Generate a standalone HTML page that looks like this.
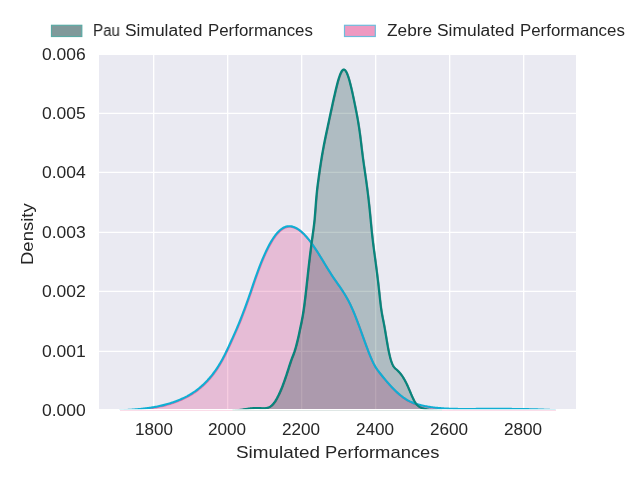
<!DOCTYPE html>
<html><head><meta charset="utf-8"><title>Simulated Performances density</title>
<style>
html,body{margin:0;padding:0;background:#ffffff;}
body{width:640px;height:480px;overflow:hidden;position:relative;font-family:"Liberation Sans",sans-serif;color:#262626;}
.t{position:absolute;display:block;white-space:nowrap;line-height:1;font-family:"Liberation Sans",sans-serif;color:#262626;will-change:transform;transform-origin:0 0;}
</style></head><body>
<svg width="640" height="480" viewBox="0 0 640 480" style="position:absolute;left:0;top:0">
<defs><clipPath id="ax"><rect x="99" y="55" width="477" height="354"/></clipPath></defs>
<rect x="99" y="55" width="477" height="354" fill="#eaeaf2"/>
<g clip-path="url(#ax)" stroke="#ffffff" stroke-width="1.35" fill="none">
<line x1="153.675" y1="55" x2="153.675" y2="409"/>
<line x1="227.675" y1="55" x2="227.675" y2="409"/>
<line x1="301.675" y1="55" x2="301.675" y2="409"/>
<line x1="375.675" y1="55" x2="375.675" y2="409"/>
<line x1="449.675" y1="55" x2="449.675" y2="409"/>
<line x1="523.675" y1="55" x2="523.675" y2="409"/>
<line x1="99" y1="54.4" x2="576" y2="54.4"/>
<line x1="99" y1="113.4" x2="576" y2="113.4"/>
<line x1="99" y1="172.4" x2="576" y2="172.4"/>
<line x1="99" y1="232.4" x2="576" y2="232.4"/>
<line x1="99" y1="291.4" x2="576" y2="291.4"/>
<line x1="99" y1="351.4" x2="576" y2="351.4"/>
</g>
<defs><clipPath id="ax2"><rect x="99" y="55" width="477" height="355"/></clipPath></defs>
<g clip-path="url(#ax)">
<path d="M119.50,410.55 L120.50,410.50 L121.50,410.44 L122.50,410.39 L123.50,410.33 L124.50,410.28 L125.50,410.22 L126.50,410.16 L127.50,410.10 L128.50,410.04 L129.50,409.97 L130.50,409.91 L131.50,409.84 L132.50,409.77 L133.50,409.70 L134.50,409.62 L135.50,409.54 L136.50,409.46 L137.50,409.37 L138.50,409.28 L139.50,409.19 L140.50,409.09 L141.50,408.99 L142.50,408.88 L143.50,408.77 L144.50,408.66 L145.50,408.54 L146.50,408.41 L147.50,408.28 L148.50,408.14 L149.50,408.00 L150.50,407.85 L151.50,407.69 L152.50,407.53 L153.50,407.37 L154.50,407.19 L155.50,407.01 L156.50,406.82 L157.50,406.62 L158.50,406.42 L159.50,406.21 L160.50,405.99 L161.50,405.76 L162.50,405.52 L163.50,405.28 L164.50,405.03 L165.50,404.76 L166.50,404.49 L167.50,404.21 L168.50,403.92 L169.50,403.62 L170.50,403.31 L171.50,402.99 L172.50,402.66 L173.50,402.32 L174.50,401.97 L175.50,401.60 L176.50,401.23 L177.50,400.84 L178.50,400.45 L179.50,400.04 L180.50,399.61 L181.50,399.18 L182.50,398.73 L183.50,398.26 L184.50,397.78 L185.50,397.28 L186.50,396.76 L187.50,396.23 L188.50,395.67 L189.50,395.10 L190.50,394.50 L191.50,393.89 L192.50,393.25 L193.50,392.59 L194.50,391.90 L195.50,391.20 L196.50,390.46 L197.50,389.70 L198.50,388.92 L199.50,388.11 L200.50,387.27 L201.50,386.40 L202.50,385.50 L203.50,384.58 L204.50,383.62 L205.50,382.63 L206.50,381.61 L207.50,380.56 L208.50,379.46 L209.50,378.34 L210.50,377.17 L211.50,375.96 L212.50,374.70 L213.50,373.40 L214.50,372.06 L215.50,370.66 L216.50,369.21 L217.50,367.71 L218.50,366.15 L219.50,364.53 L220.50,362.85 L221.50,361.11 L222.50,359.31 L223.50,357.44 L224.50,355.51 L225.50,353.51 L226.50,351.46 L227.50,349.37 L228.50,347.24 L229.50,345.08 L230.50,342.89 L231.50,340.69 L232.50,338.48 L233.50,336.26 L234.50,334.03 L235.50,331.77 L236.50,329.49 L237.50,327.16 L238.50,324.80 L239.50,322.38 L240.50,319.90 L241.50,317.37 L242.50,314.78 L243.50,312.14 L244.50,309.45 L245.50,306.73 L246.50,303.98 L247.50,301.20 L248.50,298.41 L249.50,295.59 L250.50,292.73 L251.50,289.80 L252.50,286.79 L253.50,283.81 L254.50,280.87 L255.50,278.00 L256.50,275.18 L257.50,272.42 L258.50,269.73 L259.50,267.10 L260.50,264.53 L261.50,262.04 L262.50,259.61 L263.50,257.26 L264.50,254.98 L265.50,252.78 L266.50,250.65 L267.50,248.61 L268.50,246.64 L269.50,244.76 L270.50,242.97 L271.50,241.26 L272.50,239.63 L273.50,238.10 L274.50,236.65 L275.50,235.30 L276.50,234.04 L277.50,232.87 L278.50,231.80 L279.50,230.82 L280.50,229.95 L281.50,229.17 L282.50,228.49 L283.50,227.91 L284.50,227.43 L285.50,227.03 L286.50,226.74 L287.50,226.53 L288.50,226.40 L289.50,226.37 L290.50,226.41 L291.50,226.54 L292.50,226.75 L293.50,227.04 L294.50,227.40 L295.50,227.83 L296.50,228.34 L297.50,228.92 L298.50,229.56 L299.50,230.28 L300.50,231.05 L301.50,231.89 L302.50,232.79 L303.50,233.74 L304.50,234.75 L305.50,235.82 L306.50,236.93 L307.50,238.10 L308.50,239.32 L309.50,240.58 L310.50,241.88 L311.50,243.23 L312.50,244.62 L313.50,246.04 L314.50,247.51 L315.50,249.00 L316.50,250.53 L317.50,252.09 L318.50,253.67 L319.50,255.27 L320.50,256.89 L321.50,258.52 L322.50,260.15 L323.50,261.80 L324.50,263.45 L325.50,265.09 L326.50,266.73 L327.50,268.36 L328.50,269.98 L329.50,271.58 L330.50,273.16 L331.50,274.71 L332.50,276.24 L333.50,277.74 L334.50,279.20 L335.50,280.65 L336.50,282.08 L337.50,283.51 L338.50,284.93 L339.50,286.37 L340.50,287.82 L341.50,289.30 L342.50,290.81 L343.50,292.35 L344.50,293.95 L345.50,295.60 L346.50,297.31 L347.50,299.10 L348.50,300.96 L349.50,302.90 L350.50,304.94 L351.50,307.09 L352.50,309.33 L353.50,311.67 L354.50,314.09 L355.50,316.59 L356.50,319.16 L357.50,321.78 L358.50,324.45 L359.50,327.16 L360.50,329.90 L361.50,332.66 L362.50,335.43 L363.50,338.21 L364.50,340.97 L365.50,343.72 L366.50,346.45 L367.50,349.13 L368.50,351.75 L369.50,354.30 L370.50,356.76 L371.50,359.10 L372.50,361.31 L373.50,363.38 L374.50,365.28 L375.50,367.00 L376.50,368.57 L377.50,370.01 L378.50,371.36 L379.50,372.65 L380.50,373.92 L381.50,375.17 L382.50,376.41 L383.50,377.64 L384.50,378.85 L385.50,380.04 L386.50,381.22 L387.50,382.38 L388.50,383.53 L389.50,384.65 L390.50,385.75 L391.50,386.83 L392.50,387.88 L393.50,388.92 L394.50,389.92 L395.50,390.90 L396.50,391.85 L397.50,392.78 L398.50,393.67 L399.50,394.53 L400.50,395.36 L401.50,396.16 L402.50,396.93 L403.50,397.66 L404.50,398.35 L405.50,399.01 L406.50,399.63 L407.50,400.21 L408.50,400.76 L409.50,401.28 L410.50,401.77 L411.50,402.22 L412.50,402.65 L413.50,403.06 L414.50,403.43 L415.50,403.79 L416.50,404.12 L417.50,404.43 L418.50,404.72 L419.50,404.99 L420.50,405.24 L421.50,405.49 L422.50,405.71 L423.50,405.93 L424.50,406.13 L425.50,406.33 L426.50,406.51 L427.50,406.69 L428.50,406.86 L429.50,407.02 L430.50,407.17 L431.50,407.32 L432.50,407.46 L433.50,407.59 L434.50,407.71 L435.50,407.83 L436.50,407.94 L437.50,408.05 L438.50,408.14 L439.50,408.24 L440.50,408.32 L441.50,408.40 L442.50,408.48 L443.50,408.55 L444.50,408.61 L445.50,408.67 L446.50,408.72 L447.50,408.77 L448.50,408.82 L449.50,408.86 L450.50,408.90 L451.50,408.93 L452.50,408.96 L453.50,408.99 L454.50,409.01 L455.50,409.03 L456.50,409.05 L457.50,409.06 L458.50,409.08 L459.50,409.09 L460.50,409.09 L461.50,409.10 L462.50,409.10 L463.50,409.11 L464.50,409.11 L465.50,409.11 L466.50,409.11 L467.50,409.10 L468.50,409.10 L469.50,409.10 L470.50,409.09 L471.50,409.09 L472.50,409.09 L473.50,409.08 L474.50,409.08 L475.50,409.08 L476.50,409.07 L477.50,409.07 L478.50,409.06 L479.50,409.06 L480.50,409.06 L481.50,409.05 L482.50,409.05 L483.50,409.05 L484.50,409.04 L485.50,409.04 L486.50,409.04 L487.50,409.03 L488.50,409.03 L489.50,409.03 L490.50,409.03 L491.50,409.02 L492.50,409.02 L493.50,409.02 L494.50,409.02 L495.50,409.02 L496.50,409.02 L497.50,409.02 L498.50,409.02 L499.50,409.02 L500.50,409.02 L501.50,409.02 L502.50,409.02 L503.50,409.03 L504.50,409.03 L505.50,409.03 L506.50,409.04 L507.50,409.04 L508.50,409.05 L509.50,409.06 L510.50,409.06 L511.50,409.07 L512.50,409.08 L513.50,409.09 L514.50,409.10 L515.50,409.11 L516.50,409.12 L517.50,409.13 L518.50,409.14 L519.50,409.16 L520.50,409.17 L521.50,409.19 L522.50,409.20 L523.50,409.22 L524.50,409.24 L525.50,409.26 L526.50,409.28 L527.50,409.30 L528.50,409.32 L529.50,409.34 L530.50,409.37 L531.50,409.39 L532.50,409.42 L533.50,409.45 L534.50,409.47 L535.50,409.50 L536.50,409.53 L537.50,409.57 L538.50,409.60 L539.50,409.63 L540.50,409.67 L541.50,409.71 L542.50,409.75 L543.50,409.79 L544.50,409.83 L545.50,409.87 L546.50,409.91 L547.50,409.96 L548.50,410.00 L549.50,410.05 L550.50,410.10 L551.50,410.15 L552.50,410.21 L553.50,410.26 L554.50,410.31 L555.50,410.37 L556.00,410.40 L556.00,410.7 L119.50,410.7 Z" fill="rgb(221,51,131)" fill-opacity="0.25" stroke="none"/>
<path d="M119.50,410.55 L120.50,410.50 L121.50,410.44 L122.50,410.39 L123.50,410.33 L124.50,410.28 L125.50,410.22 L126.50,410.16 L127.50,410.10 L128.50,410.04 L129.50,409.97 L130.50,409.91 L131.50,409.84 L132.50,409.77 L133.50,409.70 L134.50,409.62 L135.50,409.54 L136.50,409.46 L137.50,409.37 L138.50,409.28 L139.50,409.19 L140.50,409.09 L141.50,408.99 L142.50,408.88 L143.50,408.77 L144.50,408.66 L145.50,408.54 L146.50,408.41 L147.50,408.28 L148.50,408.14 L149.50,408.00 L150.50,407.85 L151.50,407.69 L152.50,407.53 L153.50,407.37 L154.50,407.19 L155.50,407.01 L156.50,406.82 L157.50,406.62 L158.50,406.42 L159.50,406.21 L160.50,405.99 L161.50,405.76 L162.50,405.52 L163.50,405.28 L164.50,405.03 L165.50,404.76 L166.50,404.49 L167.50,404.21 L168.50,403.92 L169.50,403.62 L170.50,403.31 L171.50,402.99 L172.50,402.66 L173.50,402.32 L174.50,401.97 L175.50,401.60 L176.50,401.23 L177.50,400.84 L178.50,400.45 L179.50,400.04 L180.50,399.61 L181.50,399.18 L182.50,398.73 L183.50,398.26 L184.50,397.78 L185.50,397.28 L186.50,396.76 L187.50,396.23 L188.50,395.67 L189.50,395.10 L190.50,394.50 L191.50,393.89 L192.50,393.25 L193.50,392.59 L194.50,391.90 L195.50,391.20 L196.50,390.46 L197.50,389.70 L198.50,388.92 L199.50,388.11 L200.50,387.27 L201.50,386.40 L202.50,385.50 L203.50,384.58 L204.50,383.62 L205.50,382.63 L206.50,381.61 L207.50,380.56 L208.50,379.46 L209.50,378.34 L210.50,377.17 L211.50,375.96 L212.50,374.70 L213.50,373.40 L214.50,372.06 L215.50,370.66 L216.50,369.21 L217.50,367.71 L218.50,366.15 L219.50,364.53 L220.50,362.85 L221.50,361.11 L222.50,359.31 L223.50,357.44 L224.50,355.51 L225.50,353.51 L226.50,351.46 L227.50,349.37 L228.50,347.24 L229.50,345.08 L230.50,342.89 L231.50,340.69 L232.50,338.48 L233.50,336.26 L234.50,334.03 L235.50,331.77 L236.50,329.49 L237.50,327.16 L238.50,324.80 L239.50,322.38 L240.50,319.90 L241.50,317.37 L242.50,314.78 L243.50,312.14 L244.50,309.45 L245.50,306.73 L246.50,303.98 L247.50,301.20 L248.50,298.41 L249.50,295.59 L250.50,292.73 L251.50,289.80 L252.50,286.79 L253.50,283.81 L254.50,280.87 L255.50,278.00 L256.50,275.18 L257.50,272.42 L258.50,269.73 L259.50,267.10 L260.50,264.53 L261.50,262.04 L262.50,259.61 L263.50,257.26 L264.50,254.98 L265.50,252.78 L266.50,250.65 L267.50,248.61 L268.50,246.64 L269.50,244.76 L270.50,242.97 L271.50,241.26 L272.50,239.63 L273.50,238.10 L274.50,236.65 L275.50,235.30 L276.50,234.04 L277.50,232.87 L278.50,231.80 L279.50,230.82 L280.50,229.95 L281.50,229.17 L282.50,228.49 L283.50,227.91 L284.50,227.43 L285.50,227.03 L286.50,226.74 L287.50,226.53 L288.50,226.40 L289.50,226.37 L290.50,226.41 L291.50,226.54 L292.50,226.75 L293.50,227.04 L294.50,227.40 L295.50,227.83 L296.50,228.34 L297.50,228.92 L298.50,229.56 L299.50,230.28 L300.50,231.05 L301.50,231.89 L302.50,232.79 L303.50,233.74 L304.50,234.75 L305.50,235.82 L306.50,236.93 L307.50,238.10 L308.50,239.32 L309.50,240.58 L310.50,241.88 L311.50,243.23 L312.50,244.62 L313.50,246.04 L314.50,247.51 L315.50,249.00 L316.50,250.53 L317.50,252.09 L318.50,253.67 L319.50,255.27 L320.50,256.89 L321.50,258.52 L322.50,260.15 L323.50,261.80 L324.50,263.45 L325.50,265.09 L326.50,266.73 L327.50,268.36 L328.50,269.98 L329.50,271.58 L330.50,273.16 L331.50,274.71 L332.50,276.24 L333.50,277.74 L334.50,279.20 L335.50,280.65 L336.50,282.08 L337.50,283.51 L338.50,284.93 L339.50,286.37 L340.50,287.82 L341.50,289.30 L342.50,290.81 L343.50,292.35 L344.50,293.95 L345.50,295.60 L346.50,297.31 L347.50,299.10 L348.50,300.96 L349.50,302.90 L350.50,304.94 L351.50,307.09 L352.50,309.33 L353.50,311.67 L354.50,314.09 L355.50,316.59 L356.50,319.16 L357.50,321.78 L358.50,324.45 L359.50,327.16 L360.50,329.90 L361.50,332.66 L362.50,335.43 L363.50,338.21 L364.50,340.97 L365.50,343.72 L366.50,346.45 L367.50,349.13 L368.50,351.75 L369.50,354.30 L370.50,356.76 L371.50,359.10 L372.50,361.31 L373.50,363.38 L374.50,365.28 L375.50,367.00 L376.50,368.57 L377.50,370.01 L378.50,371.36 L379.50,372.65 L380.50,373.92 L381.50,375.17 L382.50,376.41 L383.50,377.64 L384.50,378.85 L385.50,380.04 L386.50,381.22 L387.50,382.38 L388.50,383.53 L389.50,384.65 L390.50,385.75 L391.50,386.83 L392.50,387.88 L393.50,388.92 L394.50,389.92 L395.50,390.90 L396.50,391.85 L397.50,392.78 L398.50,393.67 L399.50,394.53 L400.50,395.36 L401.50,396.16 L402.50,396.93 L403.50,397.66 L404.50,398.35 L405.50,399.01 L406.50,399.63 L407.50,400.21 L408.50,400.76 L409.50,401.28 L410.50,401.77 L411.50,402.22 L412.50,402.65 L413.50,403.06 L414.50,403.43 L415.50,403.79 L416.50,404.12 L417.50,404.43 L418.50,404.72 L419.50,404.99 L420.50,405.24 L421.50,405.49 L422.50,405.71 L423.50,405.93 L424.50,406.13 L425.50,406.33 L426.50,406.51 L427.50,406.69 L428.50,406.86 L429.50,407.02 L430.50,407.17 L431.50,407.32 L432.50,407.46 L433.50,407.59 L434.50,407.71 L435.50,407.83 L436.50,407.94 L437.50,408.05 L438.50,408.14 L439.50,408.24 L440.50,408.32 L441.50,408.40 L442.50,408.48 L443.50,408.55 L444.50,408.61 L445.50,408.67 L446.50,408.72 L447.50,408.77 L448.50,408.82 L449.50,408.86 L450.50,408.90 L451.50,408.93 L452.50,408.96 L453.50,408.99 L454.50,409.01 L455.50,409.03 L456.50,409.05 L457.50,409.06 L458.50,409.08 L459.50,409.09 L460.50,409.09 L461.50,409.10 L462.50,409.10 L463.50,409.11 L464.50,409.11 L465.50,409.11 L466.50,409.11 L467.50,409.10 L468.50,409.10 L469.50,409.10 L470.50,409.09 L471.50,409.09 L472.50,409.09 L473.50,409.08 L474.50,409.08 L475.50,409.08 L476.50,409.07 L477.50,409.07 L478.50,409.06 L479.50,409.06 L480.50,409.06 L481.50,409.05 L482.50,409.05 L483.50,409.05 L484.50,409.04 L485.50,409.04 L486.50,409.04 L487.50,409.03 L488.50,409.03 L489.50,409.03 L490.50,409.03 L491.50,409.02 L492.50,409.02 L493.50,409.02 L494.50,409.02 L495.50,409.02 L496.50,409.02 L497.50,409.02 L498.50,409.02 L499.50,409.02 L500.50,409.02 L501.50,409.02 L502.50,409.02 L503.50,409.03 L504.50,409.03 L505.50,409.03 L506.50,409.04 L507.50,409.04 L508.50,409.05 L509.50,409.06 L510.50,409.06 L511.50,409.07 L512.50,409.08 L513.50,409.09 L514.50,409.10 L515.50,409.11 L516.50,409.12 L517.50,409.13 L518.50,409.14 L519.50,409.16 L520.50,409.17 L521.50,409.19 L522.50,409.20 L523.50,409.22 L524.50,409.24 L525.50,409.26 L526.50,409.28 L527.50,409.30 L528.50,409.32 L529.50,409.34 L530.50,409.37 L531.50,409.39 L532.50,409.42 L533.50,409.45 L534.50,409.47 L535.50,409.50 L536.50,409.53 L537.50,409.57 L538.50,409.60 L539.50,409.63 L540.50,409.67 L541.50,409.71 L542.50,409.75 L543.50,409.79 L544.50,409.83 L545.50,409.87 L546.50,409.91 L547.50,409.96 L548.50,410.00 L549.50,410.05 L550.50,410.10 L551.50,410.15 L552.50,410.21 L553.50,410.26 L554.50,410.31 L555.50,410.37 L556.00,410.40" fill="none" stroke="rgb(221,51,131)" stroke-opacity="0.55" stroke-width="1.9" stroke-linejoin="round" transform="translate(0.35,0.45)"/>
<path d="M232.50,410.59 L233.00,410.57 L233.50,410.55 L234.00,410.52 L234.50,410.48 L235.00,410.45 L235.50,410.40 L236.00,410.36 L236.50,410.31 L237.00,410.25 L237.50,410.20 L238.00,410.14 L238.50,410.08 L239.00,410.02 L239.50,409.95 L240.00,409.88 L240.50,409.81 L241.00,409.74 L241.50,409.67 L242.00,409.60 L242.50,409.52 L243.00,409.45 L243.50,409.37 L244.00,409.29 L244.50,409.22 L245.00,409.14 L245.50,409.07 L246.00,408.99 L246.50,408.92 L247.00,408.85 L247.50,408.78 L248.00,408.71 L248.50,408.64 L249.00,408.58 L249.50,408.51 L250.00,408.45 L250.50,408.39 L251.00,408.34 L251.50,408.29 L252.00,408.24 L252.50,408.19 L253.00,408.15 L253.50,408.11 L254.00,408.08 L254.50,408.05 L255.00,408.02 L255.50,408.00 L256.00,407.99 L256.50,407.98 L257.00,407.98 L257.50,407.98 L258.00,407.98 L258.50,408.00 L259.00,408.02 L259.50,408.04 L260.00,408.08 L260.50,408.11 L261.00,408.14 L261.50,408.18 L262.00,408.21 L262.50,408.23 L263.00,408.25 L263.50,408.26 L264.00,408.25 L264.50,408.23 L265.00,408.20 L265.50,408.15 L266.00,408.08 L266.50,407.99 L267.00,407.88 L267.50,407.74 L268.00,407.58 L268.50,407.38 L269.00,407.16 L269.50,406.90 L270.00,406.60 L270.50,406.27 L271.00,405.90 L271.50,405.49 L272.00,405.04 L272.50,404.54 L273.00,403.99 L273.50,403.40 L274.00,402.76 L274.50,402.08 L275.00,401.35 L275.50,400.58 L276.00,399.77 L276.50,398.92 L277.00,398.03 L277.50,397.09 L278.00,396.12 L278.50,395.11 L279.00,394.07 L279.50,392.98 L280.00,391.87 L280.50,390.71 L281.00,389.53 L281.50,388.31 L282.00,387.05 L282.50,385.77 L283.00,384.46 L283.50,383.11 L284.00,381.74 L284.50,380.34 L285.00,378.91 L285.50,377.46 L286.00,375.98 L286.50,374.47 L287.00,372.95 L287.50,371.39 L288.00,369.82 L288.50,368.24 L289.00,366.66 L289.50,365.10 L290.00,363.56 L290.50,362.06 L291.00,360.62 L291.50,359.24 L292.00,357.92 L292.50,356.63 L293.00,355.34 L293.50,354.03 L294.00,352.67 L294.50,351.23 L295.00,349.68 L295.50,348.01 L296.00,346.23 L296.50,344.34 L297.00,342.36 L297.50,340.28 L298.00,338.13 L298.50,335.92 L299.00,333.65 L299.50,331.33 L300.00,328.97 L300.50,326.59 L301.00,324.18 L301.50,321.72 L302.00,319.14 L302.50,316.41 L303.00,313.46 L303.50,310.25 L304.00,306.73 L304.50,302.92 L305.00,298.87 L305.50,294.61 L306.00,290.20 L306.50,285.69 L307.00,281.10 L307.50,276.50 L308.00,271.93 L308.50,267.43 L309.00,263.04 L309.50,258.79 L310.00,254.67 L310.50,250.66 L311.00,246.75 L311.50,242.92 L312.00,239.17 L312.50,235.47 L313.00,231.81 L313.50,228.17 L314.00,224.24 L314.50,219.49 L315.00,213.62 L315.50,207.09 L316.00,200.58 L316.50,194.75 L317.00,189.85 L317.50,185.64 L318.00,181.81 L318.50,178.11 L319.00,174.51 L319.50,171.01 L320.00,167.60 L320.50,164.29 L321.00,161.09 L321.50,157.99 L322.00,154.99 L322.50,152.10 L323.00,149.32 L323.50,146.63 L324.00,144.02 L324.50,141.48 L325.00,139.00 L325.50,136.57 L326.00,134.18 L326.50,131.82 L327.00,129.48 L327.50,127.14 L328.00,124.79 L328.50,122.45 L329.00,120.10 L329.50,117.76 L330.00,115.42 L330.50,113.08 L331.00,110.75 L331.50,108.44 L332.00,106.13 L332.50,103.84 L333.00,101.57 L333.50,99.31 L334.00,97.08 L334.50,94.87 L335.00,92.69 L335.50,90.55 L336.00,88.46 L336.50,86.42 L337.00,84.46 L337.50,82.57 L338.00,80.77 L338.50,79.07 L339.00,77.47 L339.50,75.99 L340.00,74.64 L340.50,73.43 L341.00,72.35 L341.50,71.44 L342.00,70.69 L342.50,70.11 L343.00,69.72 L343.50,69.52 L344.00,69.53 L344.50,69.74 L345.00,70.14 L345.50,70.72 L346.00,71.49 L346.50,72.42 L347.00,73.51 L347.50,74.75 L348.00,76.13 L348.50,77.65 L349.00,79.29 L349.50,81.04 L350.00,82.91 L350.50,84.87 L351.00,86.92 L351.50,89.06 L352.00,91.26 L352.50,93.54 L353.00,95.86 L353.50,98.24 L354.00,100.65 L354.50,103.09 L355.00,105.56 L355.50,108.04 L356.00,110.56 L356.50,113.13 L357.00,115.79 L357.50,118.55 L358.00,121.43 L358.50,124.47 L359.00,127.67 L359.50,131.06 L360.00,134.68 L360.50,138.53 L361.00,142.60 L361.50,146.78 L362.00,150.95 L362.50,155.00 L363.00,158.83 L363.50,162.48 L364.00,165.99 L364.50,169.43 L365.00,172.86 L365.50,176.33 L366.00,179.87 L366.50,183.50 L367.00,187.26 L367.50,191.15 L368.00,195.21 L368.50,199.46 L369.00,203.92 L369.50,208.62 L370.00,213.58 L370.50,218.79 L371.00,224.08 L371.50,229.25 L372.00,234.10 L372.50,238.59 L373.00,242.79 L373.50,246.78 L374.00,250.63 L374.50,254.41 L375.00,258.16 L375.50,261.93 L376.00,265.72 L376.50,269.57 L377.00,273.49 L377.50,277.52 L378.00,281.68 L378.50,285.99 L379.00,290.49 L379.50,295.14 L380.00,299.77 L380.50,304.15 L381.00,308.06 L381.50,311.43 L382.00,314.37 L382.50,317.03 L383.00,319.55 L383.50,322.04 L384.00,324.66 L384.50,327.42 L385.00,330.30 L385.50,333.26 L386.00,336.26 L386.50,339.25 L387.00,342.20 L387.50,345.08 L388.00,347.83 L388.50,350.43 L389.00,352.85 L389.50,355.08 L390.00,357.12 L390.50,358.98 L391.00,360.66 L391.50,362.16 L392.00,363.48 L392.50,364.63 L393.00,365.59 L393.50,366.41 L394.00,367.10 L394.50,367.70 L395.00,368.21 L395.50,368.67 L396.00,369.11 L396.50,369.55 L397.00,370.00 L397.50,370.47 L398.00,370.96 L398.50,371.46 L399.00,371.99 L399.50,372.54 L400.00,373.13 L400.50,373.74 L401.00,374.38 L401.50,375.06 L402.00,375.76 L402.50,376.51 L403.00,377.28 L403.50,378.09 L404.00,378.93 L404.50,379.81 L405.00,380.72 L405.50,381.66 L406.00,382.64 L406.50,383.66 L407.00,384.71 L407.50,385.79 L408.00,386.91 L408.50,388.06 L409.00,389.23 L409.50,390.41 L410.00,391.60 L410.50,392.78 L411.00,393.96 L411.50,395.12 L412.00,396.25 L412.50,397.36 L413.00,398.42 L413.50,399.44 L414.00,400.41 L414.50,401.32 L415.00,402.15 L415.50,402.92 L416.00,403.61 L416.50,404.23 L417.00,404.80 L417.50,405.30 L418.00,405.75 L418.50,406.15 L419.00,406.51 L419.50,406.83 L420.00,407.11 L420.50,407.36 L421.00,407.59 L421.50,407.79 L422.00,407.98 L422.50,408.15 L423.00,408.31 L423.50,408.47 L424.00,408.62 L424.50,408.76 L425.00,408.89 L425.50,409.01 L426.00,409.13 L426.50,409.24 L427.00,409.35 L427.50,409.45 L428.00,409.54 L428.50,409.62 L429.00,409.70 L429.50,409.78 L430.00,409.85 L430.50,409.91 L431.00,409.97 L431.50,410.03 L432.00,410.08 L432.50,410.13 L433.00,410.17 L433.50,410.22 L434.00,410.25 L434.50,410.29 L435.00,410.32 L435.50,410.35 L436.00,410.38 L436.50,410.40 L437.00,410.42 L437.50,410.44 L438.00,410.46 L438.50,410.48 L439.00,410.50 L439.50,410.52 L440.00,410.54 L440.50,410.55 L441.00,410.57 L441.50,410.59 L442.00,410.61 L442.00,410.7 L232.50,410.7 Z" fill="rgb(1,51,53)" fill-opacity="0.25" stroke="none"/>
<path d="M232.50,410.59 L233.00,410.57 L233.50,410.55 L234.00,410.52 L234.50,410.48 L235.00,410.45 L235.50,410.40 L236.00,410.36 L236.50,410.31 L237.00,410.25 L237.50,410.20 L238.00,410.14 L238.50,410.08 L239.00,410.02 L239.50,409.95 L240.00,409.88 L240.50,409.81 L241.00,409.74 L241.50,409.67 L242.00,409.60 L242.50,409.52 L243.00,409.45 L243.50,409.37 L244.00,409.29 L244.50,409.22 L245.00,409.14 L245.50,409.07 L246.00,408.99 L246.50,408.92 L247.00,408.85 L247.50,408.78 L248.00,408.71 L248.50,408.64 L249.00,408.58 L249.50,408.51 L250.00,408.45 L250.50,408.39 L251.00,408.34 L251.50,408.29 L252.00,408.24 L252.50,408.19 L253.00,408.15 L253.50,408.11 L254.00,408.08 L254.50,408.05 L255.00,408.02 L255.50,408.00 L256.00,407.99 L256.50,407.98 L257.00,407.98 L257.50,407.98 L258.00,407.98 L258.50,408.00 L259.00,408.02 L259.50,408.04 L260.00,408.08 L260.50,408.11 L261.00,408.14 L261.50,408.18 L262.00,408.21 L262.50,408.23 L263.00,408.25 L263.50,408.26 L264.00,408.25 L264.50,408.23 L265.00,408.20 L265.50,408.15 L266.00,408.08 L266.50,407.99 L267.00,407.88 L267.50,407.74 L268.00,407.58 L268.50,407.38 L269.00,407.16 L269.50,406.90 L270.00,406.60 L270.50,406.27 L271.00,405.90 L271.50,405.49 L272.00,405.04 L272.50,404.54 L273.00,403.99 L273.50,403.40 L274.00,402.76 L274.50,402.08 L275.00,401.35 L275.50,400.58 L276.00,399.77 L276.50,398.92 L277.00,398.03 L277.50,397.09 L278.00,396.12 L278.50,395.11 L279.00,394.07 L279.50,392.98 L280.00,391.87 L280.50,390.71 L281.00,389.53 L281.50,388.31 L282.00,387.05 L282.50,385.77 L283.00,384.46 L283.50,383.11 L284.00,381.74 L284.50,380.34 L285.00,378.91 L285.50,377.46 L286.00,375.98 L286.50,374.47 L287.00,372.95 L287.50,371.39 L288.00,369.82 L288.50,368.24 L289.00,366.66 L289.50,365.10 L290.00,363.56 L290.50,362.06 L291.00,360.62 L291.50,359.24 L292.00,357.92 L292.50,356.63 L293.00,355.34 L293.50,354.03 L294.00,352.67 L294.50,351.23 L295.00,349.68 L295.50,348.01 L296.00,346.23 L296.50,344.34 L297.00,342.36 L297.50,340.28 L298.00,338.13 L298.50,335.92 L299.00,333.65 L299.50,331.33 L300.00,328.97 L300.50,326.59 L301.00,324.18 L301.50,321.72 L302.00,319.14 L302.50,316.41 L303.00,313.46 L303.50,310.25 L304.00,306.73 L304.50,302.92 L305.00,298.87 L305.50,294.61 L306.00,290.20 L306.50,285.69 L307.00,281.10 L307.50,276.50 L308.00,271.93 L308.50,267.43 L309.00,263.04 L309.50,258.79 L310.00,254.67 L310.50,250.66 L311.00,246.75 L311.50,242.92 L312.00,239.17 L312.50,235.47 L313.00,231.81 L313.50,228.17 L314.00,224.24 L314.50,219.49 L315.00,213.62 L315.50,207.09 L316.00,200.58 L316.50,194.75 L317.00,189.85 L317.50,185.64 L318.00,181.81 L318.50,178.11 L319.00,174.51 L319.50,171.01 L320.00,167.60 L320.50,164.29 L321.00,161.09 L321.50,157.99 L322.00,154.99 L322.50,152.10 L323.00,149.32 L323.50,146.63 L324.00,144.02 L324.50,141.48 L325.00,139.00 L325.50,136.57 L326.00,134.18 L326.50,131.82 L327.00,129.48 L327.50,127.14 L328.00,124.79 L328.50,122.45 L329.00,120.10 L329.50,117.76 L330.00,115.42 L330.50,113.08 L331.00,110.75 L331.50,108.44 L332.00,106.13 L332.50,103.84 L333.00,101.57 L333.50,99.31 L334.00,97.08 L334.50,94.87 L335.00,92.69 L335.50,90.55 L336.00,88.46 L336.50,86.42 L337.00,84.46 L337.50,82.57 L338.00,80.77 L338.50,79.07 L339.00,77.47 L339.50,75.99 L340.00,74.64 L340.50,73.43 L341.00,72.35 L341.50,71.44 L342.00,70.69 L342.50,70.11 L343.00,69.72 L343.50,69.52 L344.00,69.53 L344.50,69.74 L345.00,70.14 L345.50,70.72 L346.00,71.49 L346.50,72.42 L347.00,73.51 L347.50,74.75 L348.00,76.13 L348.50,77.65 L349.00,79.29 L349.50,81.04 L350.00,82.91 L350.50,84.87 L351.00,86.92 L351.50,89.06 L352.00,91.26 L352.50,93.54 L353.00,95.86 L353.50,98.24 L354.00,100.65 L354.50,103.09 L355.00,105.56 L355.50,108.04 L356.00,110.56 L356.50,113.13 L357.00,115.79 L357.50,118.55 L358.00,121.43 L358.50,124.47 L359.00,127.67 L359.50,131.06 L360.00,134.68 L360.50,138.53 L361.00,142.60 L361.50,146.78 L362.00,150.95 L362.50,155.00 L363.00,158.83 L363.50,162.48 L364.00,165.99 L364.50,169.43 L365.00,172.86 L365.50,176.33 L366.00,179.87 L366.50,183.50 L367.00,187.26 L367.50,191.15 L368.00,195.21 L368.50,199.46 L369.00,203.92 L369.50,208.62 L370.00,213.58 L370.50,218.79 L371.00,224.08 L371.50,229.25 L372.00,234.10 L372.50,238.59 L373.00,242.79 L373.50,246.78 L374.00,250.63 L374.50,254.41 L375.00,258.16 L375.50,261.93 L376.00,265.72 L376.50,269.57 L377.00,273.49 L377.50,277.52 L378.00,281.68 L378.50,285.99 L379.00,290.49 L379.50,295.14 L380.00,299.77 L380.50,304.15 L381.00,308.06 L381.50,311.43 L382.00,314.37 L382.50,317.03 L383.00,319.55 L383.50,322.04 L384.00,324.66 L384.50,327.42 L385.00,330.30 L385.50,333.26 L386.00,336.26 L386.50,339.25 L387.00,342.20 L387.50,345.08 L388.00,347.83 L388.50,350.43 L389.00,352.85 L389.50,355.08 L390.00,357.12 L390.50,358.98 L391.00,360.66 L391.50,362.16 L392.00,363.48 L392.50,364.63 L393.00,365.59 L393.50,366.41 L394.00,367.10 L394.50,367.70 L395.00,368.21 L395.50,368.67 L396.00,369.11 L396.50,369.55 L397.00,370.00 L397.50,370.47 L398.00,370.96 L398.50,371.46 L399.00,371.99 L399.50,372.54 L400.00,373.13 L400.50,373.74 L401.00,374.38 L401.50,375.06 L402.00,375.76 L402.50,376.51 L403.00,377.28 L403.50,378.09 L404.00,378.93 L404.50,379.81 L405.00,380.72 L405.50,381.66 L406.00,382.64 L406.50,383.66 L407.00,384.71 L407.50,385.79 L408.00,386.91 L408.50,388.06 L409.00,389.23 L409.50,390.41 L410.00,391.60 L410.50,392.78 L411.00,393.96 L411.50,395.12 L412.00,396.25 L412.50,397.36 L413.00,398.42 L413.50,399.44 L414.00,400.41 L414.50,401.32 L415.00,402.15 L415.50,402.92 L416.00,403.61 L416.50,404.23 L417.00,404.80 L417.50,405.30 L418.00,405.75 L418.50,406.15 L419.00,406.51 L419.50,406.83 L420.00,407.11 L420.50,407.36 L421.00,407.59 L421.50,407.79 L422.00,407.98 L422.50,408.15 L423.00,408.31 L423.50,408.47 L424.00,408.62 L424.50,408.76 L425.00,408.89 L425.50,409.01 L426.00,409.13 L426.50,409.24 L427.00,409.35 L427.50,409.45 L428.00,409.54 L428.50,409.62 L429.00,409.70 L429.50,409.78 L430.00,409.85 L430.50,409.91 L431.00,409.97 L431.50,410.03 L432.00,410.08 L432.50,410.13 L433.00,410.17 L433.50,410.22 L434.00,410.25 L434.50,410.29 L435.00,410.32 L435.50,410.35 L436.00,410.38 L436.50,410.40 L437.00,410.42 L437.50,410.44 L438.00,410.46 L438.50,410.48 L439.00,410.50 L439.50,410.52 L440.00,410.54 L440.50,410.55 L441.00,410.57 L441.50,410.59 L442.00,410.61" fill="none" stroke="rgb(1,51,53)" stroke-opacity="0.5" stroke-width="1.9" stroke-linejoin="round" transform="translate(0.4,0.3)"/>
</g><g clip-path="url(#ax2)">
<path d="M119.50,410.55 L120.50,410.50 L121.50,410.44 L122.50,410.39 L123.50,410.33 L124.50,410.28 L125.50,410.22 L126.50,410.16 L127.50,410.10 L128.50,410.04 L129.50,409.97 L130.50,409.91 L131.50,409.84 L132.50,409.77 L133.50,409.70 L134.50,409.62 L135.50,409.54 L136.50,409.46 L137.50,409.37 L138.50,409.28 L139.50,409.19 L140.50,409.09 L141.50,408.99 L142.50,408.88 L143.50,408.77 L144.50,408.66 L145.50,408.54 L146.50,408.41 L147.50,408.28 L148.50,408.14 L149.50,408.00 L150.50,407.85 L151.50,407.69 L152.50,407.53 L153.50,407.37 L154.50,407.19 L155.50,407.01 L156.50,406.82 L157.50,406.62 L158.50,406.42 L159.50,406.21 L160.50,405.99 L161.50,405.76 L162.50,405.52 L163.50,405.28 L164.50,405.03 L165.50,404.76 L166.50,404.49 L167.50,404.21 L168.50,403.92 L169.50,403.62 L170.50,403.31 L171.50,402.99 L172.50,402.66 L173.50,402.32 L174.50,401.97 L175.50,401.60 L176.50,401.23 L177.50,400.84 L178.50,400.45 L179.50,400.04 L180.50,399.61 L181.50,399.18 L182.50,398.73 L183.50,398.26 L184.50,397.78 L185.50,397.28 L186.50,396.76 L187.50,396.23 L188.50,395.67 L189.50,395.10 L190.50,394.50 L191.50,393.89 L192.50,393.25 L193.50,392.59 L194.50,391.90 L195.50,391.20 L196.50,390.46 L197.50,389.70 L198.50,388.92 L199.50,388.11 L200.50,387.27 L201.50,386.40 L202.50,385.50 L203.50,384.58 L204.50,383.62 L205.50,382.63 L206.50,381.61 L207.50,380.56 L208.50,379.46 L209.50,378.34 L210.50,377.17 L211.50,375.96 L212.50,374.70 L213.50,373.40 L214.50,372.06 L215.50,370.66 L216.50,369.21 L217.50,367.71 L218.50,366.15 L219.50,364.53 L220.50,362.85 L221.50,361.11 L222.50,359.31 L223.50,357.44 L224.50,355.51 L225.50,353.51 L226.50,351.46 L227.50,349.37 L228.50,347.24 L229.50,345.08 L230.50,342.89 L231.50,340.69 L232.50,338.48 L233.50,336.26 L234.50,334.03 L235.50,331.77 L236.50,329.49 L237.50,327.16 L238.50,324.80 L239.50,322.38 L240.50,319.90 L241.50,317.37 L242.50,314.78 L243.50,312.14 L244.50,309.45 L245.50,306.73 L246.50,303.98 L247.50,301.20 L248.50,298.41 L249.50,295.59 L250.50,292.73 L251.50,289.80 L252.50,286.79 L253.50,283.81 L254.50,280.87 L255.50,278.00 L256.50,275.18 L257.50,272.42 L258.50,269.73 L259.50,267.10 L260.50,264.53 L261.50,262.04 L262.50,259.61 L263.50,257.26 L264.50,254.98 L265.50,252.78 L266.50,250.65 L267.50,248.61 L268.50,246.64 L269.50,244.76 L270.50,242.97 L271.50,241.26 L272.50,239.63 L273.50,238.10 L274.50,236.65 L275.50,235.30 L276.50,234.04 L277.50,232.87 L278.50,231.80 L279.50,230.82 L280.50,229.95 L281.50,229.17 L282.50,228.49 L283.50,227.91 L284.50,227.43 L285.50,227.03 L286.50,226.74 L287.50,226.53 L288.50,226.40 L289.50,226.37 L290.50,226.41 L291.50,226.54 L292.50,226.75 L293.50,227.04 L294.50,227.40 L295.50,227.83 L296.50,228.34 L297.50,228.92 L298.50,229.56 L299.50,230.28 L300.50,231.05 L301.50,231.89 L302.50,232.79 L303.50,233.74 L304.50,234.75 L305.50,235.82 L306.50,236.93 L307.50,238.10 L308.50,239.32 L309.50,240.58 L310.50,241.88 L311.50,243.23 L312.50,244.62 L313.50,246.04 L314.50,247.51 L315.50,249.00 L316.50,250.53 L317.50,252.09 L318.50,253.67 L319.50,255.27 L320.50,256.89 L321.50,258.52 L322.50,260.15 L323.50,261.80 L324.50,263.45 L325.50,265.09 L326.50,266.73 L327.50,268.36 L328.50,269.98 L329.50,271.58 L330.50,273.16 L331.50,274.71 L332.50,276.24 L333.50,277.74 L334.50,279.20 L335.50,280.65 L336.50,282.08 L337.50,283.51 L338.50,284.93 L339.50,286.37 L340.50,287.82 L341.50,289.30 L342.50,290.81 L343.50,292.35 L344.50,293.95 L345.50,295.60 L346.50,297.31 L347.50,299.10 L348.50,300.96 L349.50,302.90 L350.50,304.94 L351.50,307.09 L352.50,309.33 L353.50,311.67 L354.50,314.09 L355.50,316.59 L356.50,319.16 L357.50,321.78 L358.50,324.45 L359.50,327.16 L360.50,329.90 L361.50,332.66 L362.50,335.43 L363.50,338.21 L364.50,340.97 L365.50,343.72 L366.50,346.45 L367.50,349.13 L368.50,351.75 L369.50,354.30 L370.50,356.76 L371.50,359.10 L372.50,361.31 L373.50,363.38 L374.50,365.28 L375.50,367.00 L376.50,368.57 L377.50,370.01 L378.50,371.36 L379.50,372.65 L380.50,373.92 L381.50,375.17 L382.50,376.41 L383.50,377.64 L384.50,378.85 L385.50,380.04 L386.50,381.22 L387.50,382.38 L388.50,383.53 L389.50,384.65 L390.50,385.75 L391.50,386.83 L392.50,387.88 L393.50,388.92 L394.50,389.92 L395.50,390.90 L396.50,391.85 L397.50,392.78 L398.50,393.67 L399.50,394.53 L400.50,395.36 L401.50,396.16 L402.50,396.93 L403.50,397.66 L404.50,398.35 L405.50,399.01 L406.50,399.63 L407.50,400.21 L408.50,400.76 L409.50,401.28 L410.50,401.77 L411.50,402.22 L412.50,402.65 L413.50,403.06 L414.50,403.43 L415.50,403.79 L416.50,404.12 L417.50,404.43 L418.50,404.72 L419.50,404.99 L420.50,405.24 L421.50,405.49 L422.50,405.71 L423.50,405.93 L424.50,406.13 L425.50,406.33 L426.50,406.51 L427.50,406.69 L428.50,406.86 L429.50,407.02 L430.50,407.17 L431.50,407.32 L432.50,407.46 L433.50,407.59 L434.50,407.71 L435.50,407.83 L436.50,407.94 L437.50,408.05 L438.50,408.14 L439.50,408.24 L440.50,408.32 L441.50,408.40 L442.50,408.48 L443.50,408.55 L444.50,408.61 L445.50,408.67 L446.50,408.72 L447.50,408.77 L448.50,408.82 L449.50,408.86 L450.50,408.90 L451.50,408.93 L452.50,408.96 L453.50,408.99 L454.50,409.01 L455.50,409.03 L456.50,409.05 L457.50,409.06 L458.50,409.08 L459.50,409.09 L460.50,409.09 L461.50,409.10 L462.50,409.10 L463.50,409.11 L464.50,409.11 L465.50,409.11 L466.50,409.11 L467.50,409.10 L468.50,409.10 L469.50,409.10 L470.50,409.09 L471.50,409.09 L472.50,409.09 L473.50,409.08 L474.50,409.08 L475.50,409.08 L476.50,409.07 L477.50,409.07 L478.50,409.06 L479.50,409.06 L480.50,409.06 L481.50,409.05 L482.50,409.05 L483.50,409.05 L484.50,409.04 L485.50,409.04 L486.50,409.04 L487.50,409.03 L488.50,409.03 L489.50,409.03 L490.50,409.03 L491.50,409.02 L492.50,409.02 L493.50,409.02 L494.50,409.02 L495.50,409.02 L496.50,409.02 L497.50,409.02 L498.50,409.02 L499.50,409.02 L500.50,409.02 L501.50,409.02 L502.50,409.02 L503.50,409.03 L504.50,409.03 L505.50,409.03 L506.50,409.04 L507.50,409.04 L508.50,409.05 L509.50,409.06 L510.50,409.06 L511.50,409.07 L512.50,409.08 L513.50,409.09 L514.50,409.10 L515.50,409.11 L516.50,409.12 L517.50,409.13 L518.50,409.14 L519.50,409.16 L520.50,409.17 L521.50,409.19 L522.50,409.20 L523.50,409.22 L524.50,409.24 L525.50,409.26 L526.50,409.28 L527.50,409.30 L528.50,409.32 L529.50,409.34 L530.50,409.37 L531.50,409.39 L532.50,409.42 L533.50,409.45 L534.50,409.47 L535.50,409.50 L536.50,409.53 L537.50,409.57 L538.50,409.60 L539.50,409.63 L540.50,409.67 L541.50,409.71 L542.50,409.75 L543.50,409.79 L544.50,409.83 L545.50,409.87 L546.50,409.91 L547.50,409.96 L548.50,410.00 L549.50,410.05 L550.50,410.10 L551.50,410.15 L552.50,410.21 L553.50,410.26 L554.50,410.31 L555.50,410.37 L556.00,410.40" fill="none" stroke="#10aed3" stroke-width="2.1" stroke-linejoin="round" transform="translate(-0.1,-0.15)"/>
<path d="M232.50,410.59 L233.00,410.57 L233.50,410.55 L234.00,410.52 L234.50,410.48 L235.00,410.45 L235.50,410.40 L236.00,410.36 L236.50,410.31 L237.00,410.25 L237.50,410.20 L238.00,410.14 L238.50,410.08 L239.00,410.02 L239.50,409.95 L240.00,409.88 L240.50,409.81 L241.00,409.74 L241.50,409.67 L242.00,409.60 L242.50,409.52 L243.00,409.45 L243.50,409.37 L244.00,409.29 L244.50,409.22 L245.00,409.14 L245.50,409.07 L246.00,408.99 L246.50,408.92 L247.00,408.85 L247.50,408.78 L248.00,408.71 L248.50,408.64 L249.00,408.58 L249.50,408.51 L250.00,408.45 L250.50,408.39 L251.00,408.34 L251.50,408.29 L252.00,408.24 L252.50,408.19 L253.00,408.15 L253.50,408.11 L254.00,408.08 L254.50,408.05 L255.00,408.02 L255.50,408.00 L256.00,407.99 L256.50,407.98 L257.00,407.98 L257.50,407.98 L258.00,407.98 L258.50,408.00 L259.00,408.02 L259.50,408.04 L260.00,408.08 L260.50,408.11 L261.00,408.14 L261.50,408.18 L262.00,408.21 L262.50,408.23 L263.00,408.25 L263.50,408.26 L264.00,408.25 L264.50,408.23 L265.00,408.20 L265.50,408.15 L266.00,408.08 L266.50,407.99 L267.00,407.88 L267.50,407.74 L268.00,407.58 L268.50,407.38 L269.00,407.16 L269.50,406.90 L270.00,406.60 L270.50,406.27 L271.00,405.90 L271.50,405.49 L272.00,405.04 L272.50,404.54 L273.00,403.99 L273.50,403.40 L274.00,402.76 L274.50,402.08 L275.00,401.35 L275.50,400.58 L276.00,399.77 L276.50,398.92 L277.00,398.03 L277.50,397.09 L278.00,396.12 L278.50,395.11 L279.00,394.07 L279.50,392.98 L280.00,391.87 L280.50,390.71 L281.00,389.53 L281.50,388.31 L282.00,387.05 L282.50,385.77 L283.00,384.46 L283.50,383.11 L284.00,381.74 L284.50,380.34 L285.00,378.91 L285.50,377.46 L286.00,375.98 L286.50,374.47 L287.00,372.95 L287.50,371.39 L288.00,369.82 L288.50,368.24 L289.00,366.66 L289.50,365.10 L290.00,363.56 L290.50,362.06 L291.00,360.62 L291.50,359.24 L292.00,357.92 L292.50,356.63 L293.00,355.34 L293.50,354.03 L294.00,352.67 L294.50,351.23 L295.00,349.68 L295.50,348.01 L296.00,346.23 L296.50,344.34 L297.00,342.36 L297.50,340.28 L298.00,338.13 L298.50,335.92 L299.00,333.65 L299.50,331.33 L300.00,328.97 L300.50,326.59 L301.00,324.18 L301.50,321.72 L302.00,319.14 L302.50,316.41 L303.00,313.46 L303.50,310.25 L304.00,306.73 L304.50,302.92 L305.00,298.87 L305.50,294.61 L306.00,290.20 L306.50,285.69 L307.00,281.10 L307.50,276.50 L308.00,271.93 L308.50,267.43 L309.00,263.04 L309.50,258.79 L310.00,254.67 L310.50,250.66 L311.00,246.75 L311.50,242.92 L312.00,239.17 L312.50,235.47 L313.00,231.81 L313.50,228.17 L314.00,224.24 L314.50,219.49 L315.00,213.62 L315.50,207.09 L316.00,200.58 L316.50,194.75 L317.00,189.85 L317.50,185.64 L318.00,181.81 L318.50,178.11 L319.00,174.51 L319.50,171.01 L320.00,167.60 L320.50,164.29 L321.00,161.09 L321.50,157.99 L322.00,154.99 L322.50,152.10 L323.00,149.32 L323.50,146.63 L324.00,144.02 L324.50,141.48 L325.00,139.00 L325.50,136.57 L326.00,134.18 L326.50,131.82 L327.00,129.48 L327.50,127.14 L328.00,124.79 L328.50,122.45 L329.00,120.10 L329.50,117.76 L330.00,115.42 L330.50,113.08 L331.00,110.75 L331.50,108.44 L332.00,106.13 L332.50,103.84 L333.00,101.57 L333.50,99.31 L334.00,97.08 L334.50,94.87 L335.00,92.69 L335.50,90.55 L336.00,88.46 L336.50,86.42 L337.00,84.46 L337.50,82.57 L338.00,80.77 L338.50,79.07 L339.00,77.47 L339.50,75.99 L340.00,74.64 L340.50,73.43 L341.00,72.35 L341.50,71.44 L342.00,70.69 L342.50,70.11 L343.00,69.72 L343.50,69.52 L344.00,69.53 L344.50,69.74 L345.00,70.14 L345.50,70.72 L346.00,71.49 L346.50,72.42 L347.00,73.51 L347.50,74.75 L348.00,76.13 L348.50,77.65 L349.00,79.29 L349.50,81.04 L350.00,82.91 L350.50,84.87 L351.00,86.92 L351.50,89.06 L352.00,91.26 L352.50,93.54 L353.00,95.86 L353.50,98.24 L354.00,100.65 L354.50,103.09 L355.00,105.56 L355.50,108.04 L356.00,110.56 L356.50,113.13 L357.00,115.79 L357.50,118.55 L358.00,121.43 L358.50,124.47 L359.00,127.67 L359.50,131.06 L360.00,134.68 L360.50,138.53 L361.00,142.60 L361.50,146.78 L362.00,150.95 L362.50,155.00 L363.00,158.83 L363.50,162.48 L364.00,165.99 L364.50,169.43 L365.00,172.86 L365.50,176.33 L366.00,179.87 L366.50,183.50 L367.00,187.26 L367.50,191.15 L368.00,195.21 L368.50,199.46 L369.00,203.92 L369.50,208.62 L370.00,213.58 L370.50,218.79 L371.00,224.08 L371.50,229.25 L372.00,234.10 L372.50,238.59 L373.00,242.79 L373.50,246.78 L374.00,250.63 L374.50,254.41 L375.00,258.16 L375.50,261.93 L376.00,265.72 L376.50,269.57 L377.00,273.49 L377.50,277.52 L378.00,281.68 L378.50,285.99 L379.00,290.49 L379.50,295.14 L380.00,299.77 L380.50,304.15 L381.00,308.06 L381.50,311.43 L382.00,314.37 L382.50,317.03 L383.00,319.55 L383.50,322.04 L384.00,324.66 L384.50,327.42 L385.00,330.30 L385.50,333.26 L386.00,336.26 L386.50,339.25 L387.00,342.20 L387.50,345.08 L388.00,347.83 L388.50,350.43 L389.00,352.85 L389.50,355.08 L390.00,357.12 L390.50,358.98 L391.00,360.66 L391.50,362.16 L392.00,363.48 L392.50,364.63 L393.00,365.59 L393.50,366.41 L394.00,367.10 L394.50,367.70 L395.00,368.21 L395.50,368.67 L396.00,369.11 L396.50,369.55 L397.00,370.00 L397.50,370.47 L398.00,370.96 L398.50,371.46 L399.00,371.99 L399.50,372.54 L400.00,373.13 L400.50,373.74 L401.00,374.38 L401.50,375.06 L402.00,375.76 L402.50,376.51 L403.00,377.28 L403.50,378.09 L404.00,378.93 L404.50,379.81 L405.00,380.72 L405.50,381.66 L406.00,382.64 L406.50,383.66 L407.00,384.71 L407.50,385.79 L408.00,386.91 L408.50,388.06 L409.00,389.23 L409.50,390.41 L410.00,391.60 L410.50,392.78 L411.00,393.96 L411.50,395.12 L412.00,396.25 L412.50,397.36 L413.00,398.42 L413.50,399.44 L414.00,400.41 L414.50,401.32 L415.00,402.15 L415.50,402.92 L416.00,403.61 L416.50,404.23 L417.00,404.80 L417.50,405.30 L418.00,405.75 L418.50,406.15 L419.00,406.51 L419.50,406.83 L420.00,407.11 L420.50,407.36 L421.00,407.59 L421.50,407.79 L422.00,407.98 L422.50,408.15 L423.00,408.31 L423.50,408.47 L424.00,408.62 L424.50,408.76 L425.00,408.89 L425.50,409.01 L426.00,409.13 L426.50,409.24 L427.00,409.35 L427.50,409.45 L428.00,409.54 L428.50,409.62 L429.00,409.70 L429.50,409.78 L430.00,409.85 L430.50,409.91 L431.00,409.97 L431.50,410.03 L432.00,410.08 L432.50,410.13 L433.00,410.17 L433.50,410.22 L434.00,410.25 L434.50,410.29 L435.00,410.32 L435.50,410.35 L436.00,410.38 L436.50,410.40 L437.00,410.42 L437.50,410.44 L438.00,410.46 L438.50,410.48 L439.00,410.50 L439.50,410.52 L440.00,410.54 L440.50,410.55 L441.00,410.57 L441.50,410.59 L442.00,410.61" fill="none" stroke="#07857c" stroke-width="2.1" stroke-linejoin="round"/>
</g>
<rect x="99" y="409" width="477" height="1" fill="#ffffff" fill-opacity="0.8"/>
<rect x="120" y="410" width="436" height="1" fill="#fbdde9"/>
<rect x="232.5" y="410" width="209.5" height="1" fill="#dfe7e5"/>
<rect x="51.5" y="25.3" width="30.3" height="11.2" fill="rgb(1,51,53)" fill-opacity="0.5" stroke="#5aa9a3" stroke-width="1.2"/>
<rect x="344.5" y="25.3" width="30.8" height="11.2" fill="rgb(221,51,131)" fill-opacity="0.5" stroke="#6ebbdb" stroke-width="1.2"/>
</svg>
<div><span class="t" style="left:93.34px;top:22.60px;font-size:15.6px;transform:scaleX(0.9711);">Pau</span> <span class="t" style="left:125.07px;top:22.60px;font-size:15.6px;transform:scaleX(1.1148);">Simulated</span> <span class="t" style="left:208.22px;top:22.60px;font-size:15.6px;transform:scaleX(1.0809);">Performances</span></div>
<div><span class="t" style="left:386.57px;top:22.60px;font-size:15.6px;transform:scaleX(1.1065);">Zebre</span> <span class="t" style="left:436.57px;top:22.60px;font-size:15.6px;transform:scaleX(1.1163);">Simulated</span> <span class="t" style="left:519.62px;top:22.60px;font-size:15.6px;transform:scaleX(1.0798);">Performances</span></div>
<div><span class="t" style="left:235.52px;top:443.50px;font-size:17.0px;transform:scaleX(1.1112);">Simulated</span> <span class="t" style="left:324.99px;top:443.50px;font-size:17.0px;transform:scaleX(1.0824);">Performances</span></div>
<div><span class="t" style="left:41.88px;top:46.70px;font-size:15.6px;transform:scaleX(1.1223);">0.006</span></div>
<div><span class="t" style="left:41.88px;top:105.80px;font-size:15.6px;transform:scaleX(1.1223);">0.005</span></div>
<div><span class="t" style="left:41.88px;top:165.10px;font-size:15.6px;transform:scaleX(1.1223);">0.004</span></div>
<div><span class="t" style="left:41.88px;top:224.60px;font-size:15.6px;transform:scaleX(1.1223);">0.003</span></div>
<div><span class="t" style="left:41.88px;top:284.10px;font-size:15.6px;transform:scaleX(1.1223);">0.002</span></div>
<div><span class="t" style="left:41.88px;top:343.60px;font-size:15.6px;transform:scaleX(1.1223);">0.001</span></div>
<div><span class="t" style="left:41.88px;top:403.10px;font-size:15.6px;transform:scaleX(1.1223);">0.000</span></div>
<div><span class="t" style="left:134.68px;top:422.10px;font-size:15.6px;transform:scaleX(1.0918);">1800</span></div>
<div><span class="t" style="left:207.72px;top:422.10px;font-size:15.6px;transform:scaleX(1.0995);">2000</span></div>
<div><span class="t" style="left:281.82px;top:422.10px;font-size:15.6px;transform:scaleX(1.0995);">2200</span></div>
<div><span class="t" style="left:355.82px;top:422.10px;font-size:15.6px;transform:scaleX(1.0995);">2400</span></div>
<div><span class="t" style="left:429.82px;top:422.10px;font-size:15.6px;transform:scaleX(1.0995);">2600</span></div>
<div><span class="t" style="left:503.82px;top:422.10px;font-size:15.6px;transform:scaleX(1.0995);">2800</span></div>
<div><span class="t" style="left:19.00px;top:264.92px;font-size:17.0px;transform:rotate(-90deg) scaleX(1.0880);">Density</span></div>
</body></html>
